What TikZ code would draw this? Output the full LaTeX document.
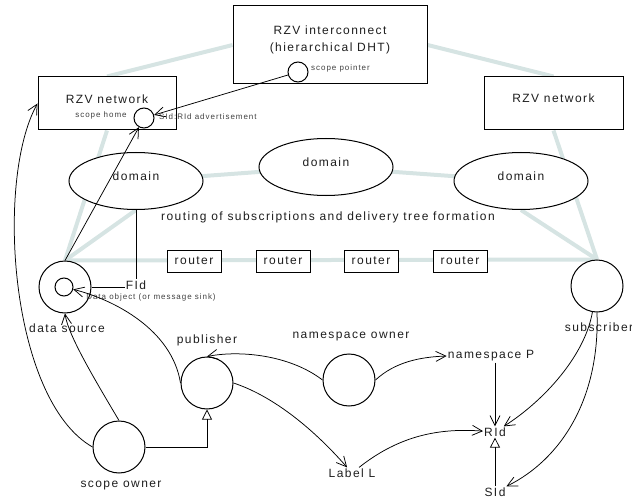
\documentclass[tikz,border=0pt]{standalone}
\usepackage{fontspec}
\setmainfont{Liberation Sans}[LetterSpace=12]
\usepackage{xcolor}
\usepackage{tikz}
\usetikzlibrary{shapes.geometric, arrows.meta, positioning, backgrounds}
\definecolor{netline}{RGB}{214,228,227}
\definecolor{ink}{RGB}{30,30,30}

\begin{document}
\begin{tikzpicture}[
  x=1pt, y=-1pt,
  big/.style={font=\fontsize{12}{17}\selectfont, text=ink, inner sep=1pt},
  small/.style={font=\fontsize{8}{9}\selectfont, text=black!75, inner sep=1pt},
  box/.style={rectangle, draw, line width=1pt, fill=white},
  dom/.style={ellipse, draw, line width=1pt, fill=white, minimum width=134pt, minimum height=57pt, inner sep=0pt},
  rtr/.style={rectangle, draw, line width=1pt, fill=white, minimum width=54pt, minimum height=22pt, inner sep=0pt, big},
  actor/.style={circle, draw, line width=1pt, fill=white, minimum size=52pt, inner sep=0pt},
  dot/.style={circle, draw, line width=1pt, fill=white, minimum size=20pt, inner sep=0pt},
  net/.style={line width=4pt, netline},
  arr/.style={-{Straight Barb[length=10pt,width=10pt]}, line width=0.75pt},
  gen/.style={-{Triangle[open,length=10pt,width=10pt]}, line width=0.75pt}
]
\useasboundingbox (0,0) rectangle (632,500);

% rendezvous networks
\node[box, minimum width=194pt, minimum height=78pt] (dht) at (330,45) {};
\node[big, align=center] (dhttxt) at (330,40) {RZV interconnect\\(hierarchical DHT)};
\node[dot] (ptr) at (298,72) {};
\node[small, anchor=west] (ptrtxt) at (310,68) {scope pointer};

\node[box, minimum width=138pt, minimum height=53pt] (lnet) at (107,103.5) {};
\node[big] (lnettxt) at (107,99) {RZV network};
\node[small] (hometxt) at (101,115) {scope home};
\node[dot] (home) at (144,118) {};
\node[small, anchor=west] (advtxt) at (158,117) {SId:RId advertisement};

\node[box, minimum width=139pt, minimum height=53pt] (rnet) at (553.5,103.5) {};
\node[big] (rnettxt) at (553.5,98) {RZV network};

% forwarding layer
\node[dom, label={[big,yshift=5pt]center:domain}] (dom1) at (136,181) {};
\node[dom, label={[big,yshift=5pt]center:domain}] (dom2) at (326,167) {};
\node[dom, label={[big,yshift=5pt]center:domain}] (dom3) at (521,181) {};
\node[big] (routetxt) at (328,217) {routing of subscriptions and delivery tree formation};

\foreach \x [count=\i] in {194,283,371,460}
  \node[rtr] (r\i) at (\x,261) {router};

% actors
\node[actor] (src) at (65,287) {};
\node[dot, minimum size=18pt] (obj) at (64,287) {};
\node[big] (fid) at (136,285) {FId};
\node[small] (objtxt) at (151,297) {Data object (or message sink)};
\node[big] (srctxt) at (67,328) {data source};

\node[actor] (pub) at (207,383) {};
\node[big] (pubtxt) at (207,340) {publisher};
\node[actor] (own) at (119,447) {};
\node[big] (owntxt) at (121,486) {scope owner};
\node[actor] (ns) at (349,380) {};
\node[big] (nstxt) at (351,337) {namespace owner};
\node[actor] (sub) at (597,286) {};
\node[big] (subtxt) at (599,327) {subscriber};

% identifiers
\node[big] (nsp) at (491,356) {namespace P};
\node[big] (rid) at (495,432) {RId};
\node[big] (sid) at (495,492) {SId};
\node[big] (lab) at (352,473) {Label L};

\begin{scope}[on background layer]
  \draw[net] (dht.west) -- (lnet.north);
  \draw[net] (dht.east) -- (rnet.north);
  \draw[net] (lnet.south) -- (src.north);
  \draw[net] (rnet.south) -- (sub.north);
  \draw[net] (dom1.center) -- (dom2.center) -- (dom3.center);
  \draw[net] (dom1.south) -- (src.north);
  \draw[net] (dom3.south) -- (sub.north);
  \draw[net] (src.north) -- (sub.north);
\end{scope}

\draw[line width=0.75pt] (dom1.south) -- (fid.north);
\draw[line width=0.75pt] (src.east) -- (src.east -| fid.west);

\draw[arr] (ptr) -- (home);
\draw[arr] (src.north) -- (home);
\draw[arr] (pub.west) .. controls (172,330) and (115,300) .. (obj);
\draw[arr] (own.north) .. controls (95,380) and (68,335) .. (src.south);
\draw[arr] (own.west) .. controls (10,400) and (-5,180) .. (lnet.west);
\draw[gen] (own.east) -| (pub.south);
\draw[arr] (ns.west) .. controls (290,355) and (240,350) .. (pub.north);
\draw[arr] (ns.east) .. controls (395,362) and (420,357) .. (nsp.west);
\draw[arr] (pub.east) .. controls (270,395) and (310,425) .. (lab);
\draw[arr] (lab) .. controls (400,435) and (440,428) .. (rid);
\draw[arr] (rid |- nsp.south) -- (rid.north);
\draw[gen] (sid) -- (rid);
\draw[arr] (sub.260) .. controls (585,355) and (545,400) .. (rid);
\draw[arr] (sub.south) .. controls (600,400) and (560,460) .. (sid);
\end{tikzpicture}
\end{document}
